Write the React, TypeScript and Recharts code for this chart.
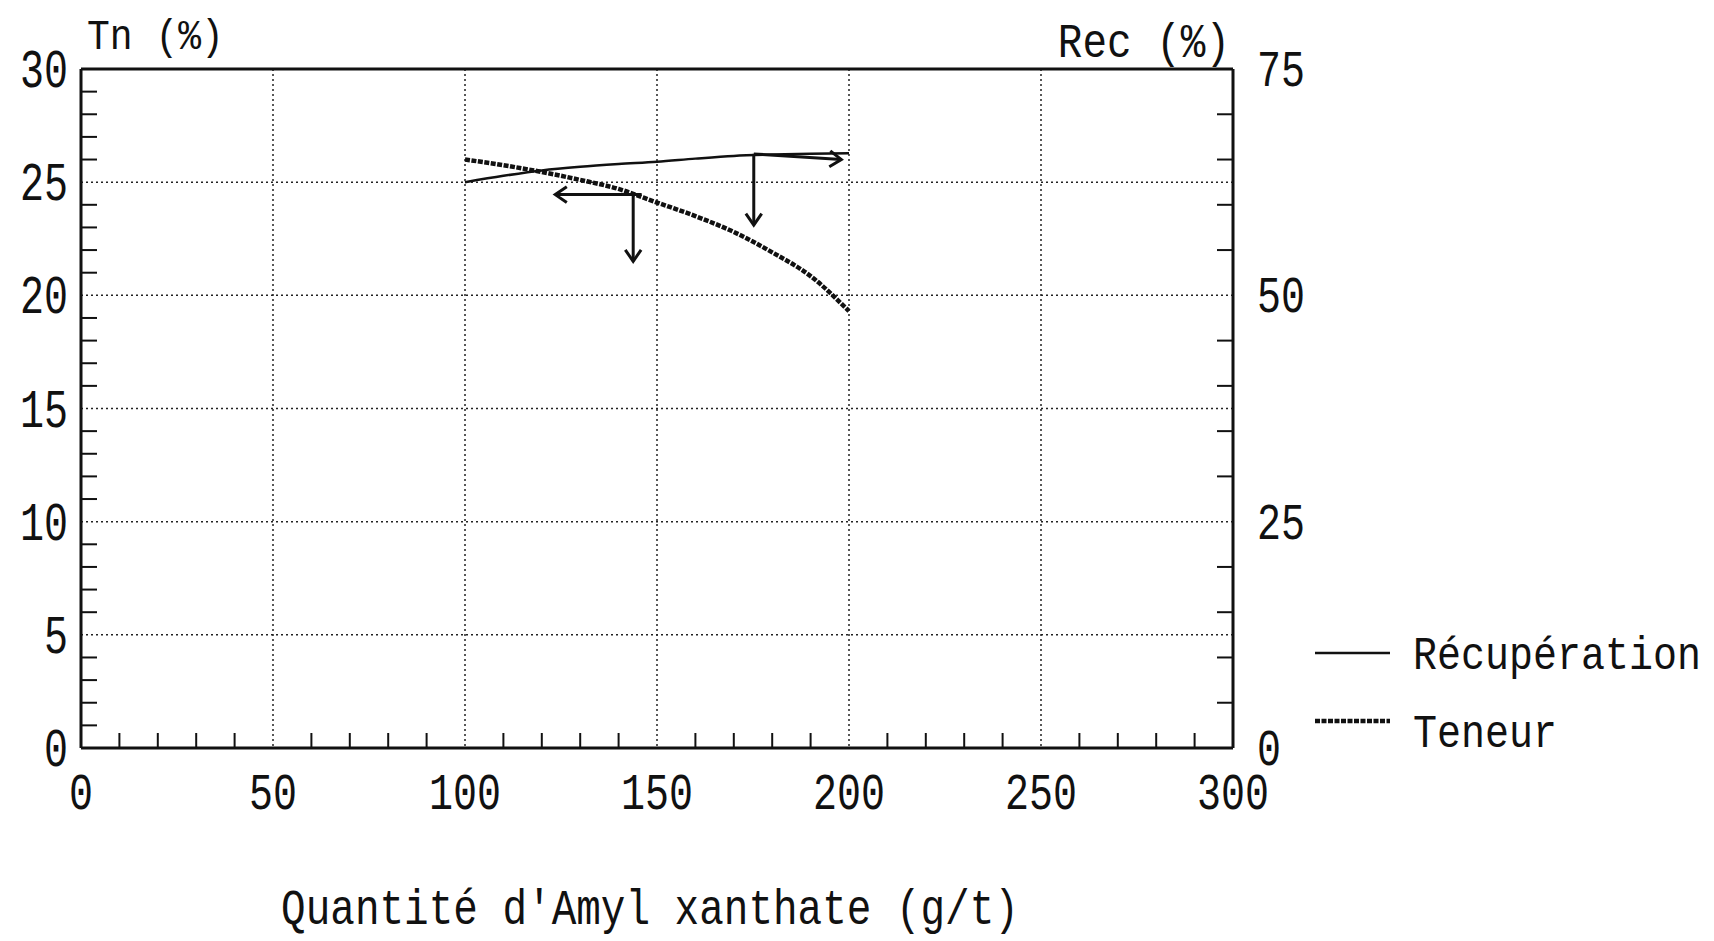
import React from 'react';
import { LineChart, Line, XAxis, YAxis, CartesianGrid, ReferenceLine, Legend } from 'recharts';

// Quantité d'amylxanthate (g/t)
const quantites = [100, 110, 120, 130, 140, 150, 160, 170, 180, 190, 200];
// Récupération (%), right axis
const recuperation = [62.5, 63.2, 63.8, 64.2, 64.5, 64.75, 65.1, 65.4, 65.55, 65.65, 65.7];
// Teneur Tn (%), left axis
const teneur = [26.0, 25.75, 25.45, 25.1, 24.7, 24.1, 23.5, 22.8, 21.9, 20.85, 19.3];

const qTicks = [0, 10, 20, 30, 40, 50, 60, 70, 80, 90, 100, 110, 120, 130, 140, 150, 160, 170, 180, 190, 200, 210, 220, 230, 240, 250, 260, 270, 280, 290, 300];
const qLabels = [0, 50, 100, 150, 200, 250, 300];
const tnTicks = [0, 1, 2, 3, 4, 5, 6, 7, 8, 9, 10, 11, 12, 13, 14, 15, 16, 17, 18, 19, 20, 21, 22, 23, 24, 25, 26, 27, 28, 29, 30];
const tnLabels = [0, 5, 10, 15, 20, 25, 30];
const recTicks = [0, 5, 10, 15, 20, 25, 30, 35, 40, 45, 50, 55, 60, 65, 70, 75];
const recLabels = [0, 25, 50, 75];
const qGrid = [50, 100, 150, 200, 250];
const tnGrid = [5, 10, 15, 20, 25];

// hand-drawn arrows on the plot: [q, Tn] -> [q, Tn]
const arrows = [
  { from: { x: 146, y: 24.45 }, to: { x: 123.5, y: 24.45 } },
  { from: { x: 143.8, y: 24.45 }, to: { x: 143.8, y: 21.5 } },
  { from: { x: 175.2, y: 26.25 }, to: { x: 175.2, y: 23.1 } },
  { from: { x: 175.2, y: 26.25 }, to: { x: 198, y: 26.0 } },
];

const data = quantites.map((q, i) => ({ q, rec: recuperation[i], tn: teneur[i] }));

const INK = '#111';
const FONT = "'Liberation Mono', 'DejaVu Sans Mono', monospace";

const Txt = ({ x, y, size, sy = 1, anchor = 'start', children }: any) => (
  <text
    transform={`translate(${x},${y}) scale(1,${sy})`}
    fontFamily={FONT}
    fontSize={size}
    textAnchor={anchor}
    fill={INK}
  >
    {children}
  </text>
);

const LEFT_GAP = 13;
const RIGHT_GAP = 24;
const BOTTOM_GAP = 25;

const LeftTick = (p: any) => {
  const v = p.payload.value;
  const ax = p.x + LEFT_GAP;
  if (tnLabels.includes(v)) {
    return <Txt x={p.x} y={p.y + 18} size={40} sy={1.35} anchor="end">{v}</Txt>;
  }
  return <line x1={ax} x2={ax + 16} y1={p.y} y2={p.y} stroke={INK} strokeWidth={2} />;
};

const RightTick = (p: any) => {
  const v = p.payload.value;
  const ax = p.x - RIGHT_GAP;
  if (recLabels.includes(v)) {
    return <Txt x={p.x} y={p.y + 17} size={40} sy={1.3}>{v}</Txt>;
  }
  return <line x1={ax} x2={ax - 16} y1={p.y} y2={p.y} stroke={INK} strokeWidth={2} />;
};

const BottomTick = (p: any) => {
  const v = p.payload.value;
  const ay = p.y - BOTTOM_GAP;
  if (qLabels.includes(v)) {
    return <Txt x={p.x} y={ay + 61} size={40} sy={1.3} anchor="middle">{v}</Txt>;
  }
  return <line x1={p.x} x2={p.x} y1={ay} y2={ay - 15} stroke={INK} strokeWidth={2} />;
};

const Arrow = (p: any) => {
  const { x1, y1, x2, y2 } = p;
  const ang = Math.atan2(y2 - y1, x2 - x1);
  const L = 14;
  const a = 0.6;
  const b1x = x2 - L * Math.cos(ang - a);
  const b1y = y2 - L * Math.sin(ang - a);
  const b2x = x2 - L * Math.cos(ang + a);
  const b2y = y2 - L * Math.sin(ang + a);
  return (
    <g>
      <line x1={x1} y1={y1} x2={x2} y2={y2} stroke={INK} strokeWidth={3} />
      <polyline points={`${b1x},${b1y} ${x2},${y2} ${b2x},${b2y}`} fill="none" stroke={INK} strokeWidth={3} />
    </g>
  );
};

const legendStyles: Record<string, { w: number; dash?: string }> = {
  rec: { w: 2.5 },
  tn: { w: 4.5, dash: '5 1.5' },
};

const LegendBox = ({ payload }: any) => (
  <svg width={400} height={140}>
    {(payload || []).map((e: any, i: number) => {
      const s = legendStyles[e.dataKey] || { w: 2 };
      return (
        <g key={e.value}>
          <line x1={5} x2={80} y1={28 + i * 68} y2={28 + i * 68} stroke={INK} strokeWidth={s.w} strokeDasharray={s.dash} />
          <Txt x={103} y={44 + i * 78} size={40} sy={1.15}>{e.value}</Txt>
        </g>
      );
    })}
  </svg>
);

export default function App() {
  return (
    <div style={{ width: 1714, height: 941, background: '#fff' }}>
      <style>{'body{margin:0;overflow:hidden;background:#fff}'}</style>
      <LineChart width={1714} height={941} data={data} margin={{ top: 69, right: 0, bottom: 0, left: 0 }}>
        <CartesianGrid
          yAxisId="tn"
          horizontalValues={tnGrid}
          verticalValues={qGrid}
          stroke="#222"
          strokeWidth={1.5}
          strokeDasharray="2 3"
        />
        <XAxis
          dataKey="q"
          type="number"
          domain={[0, 300]}
          ticks={qTicks}
          interval={0}
          height={193}
          tickSize={0}
          tickMargin={BOTTOM_GAP}
          tickLine={false}
          tick={BottomTick}
          axisLine={{ stroke: INK, strokeWidth: 3 }}
          label={{
            content: (props: any) => {
              const vb = props.viewBox;
              return (
                <Txt x={vb.x + 569} y={vb.y + 176} size={41} sy={1.2} anchor="middle">
                  Quantité d'Amyl xanthate (g/t)
                </Txt>
              );
            },
          }}
        />
        <YAxis
          yAxisId="tn"
          orientation="left"
          domain={[0, 30]}
          ticks={tnTicks}
          interval={0}
          width={81}
          tickSize={0}
          tickMargin={LEFT_GAP}
          tickLine={false}
          tick={LeftTick}
          axisLine={{ stroke: INK, strokeWidth: 3 }}
          label={{
            content: (props: any) => {
              const vb = props.viewBox;
              return <Txt x={vb.x + vb.width + 6} y={vb.y - 20} size={38} sy={1.1}>Tn (%)</Txt>;
            },
          }}
        />
        <YAxis
          yAxisId="rec"
          orientation="right"
          domain={[0, 75]}
          ticks={recTicks}
          interval={0}
          width={481}
          tickSize={0}
          tickMargin={RIGHT_GAP}
          tickLine={false}
          tick={RightTick}
          axisLine={{ stroke: INK, strokeWidth: 3 }}
          label={{
            content: (props: any) => {
              const vb = props.viewBox;
              return <Txt x={vb.x - 3} y={vb.y - 12} size={41} sy={1.15} anchor="end">Rec (%)</Txt>;
            },
          }}
        />
        <ReferenceLine yAxisId="tn" y={30} stroke={INK} strokeWidth={3} ifOverflow="visible" />
        <Line
          yAxisId="rec"
          dataKey="rec"
          name="Récupération"
          type="monotone"
          stroke={INK}
          strokeWidth={2.5}
          dot={false}
          isAnimationActive={false}
        />
        <Line
          yAxisId="tn"
          dataKey="tn"
          name="Teneur"
          type="monotone"
          stroke={INK}
          strokeWidth={4.5}
          strokeDasharray="5 1.5"
          dot={false}
          isAnimationActive={false}
        />
        {arrows.map((a, i) => (
          <ReferenceLine
            key={i}
            yAxisId="tn"
            segment={[a.from, a.to]}
            ifOverflow="visible"
            shape={Arrow}
          />
        ))}
        <Legend
          layout="vertical"
          align="center"
          verticalAlign="middle"
          content={LegendBox}
          wrapperStyle={{ position: 'absolute', left: 1310, top: 625, width: 400, height: 140 }}
        />
      </LineChart>
    </div>
  );
}
